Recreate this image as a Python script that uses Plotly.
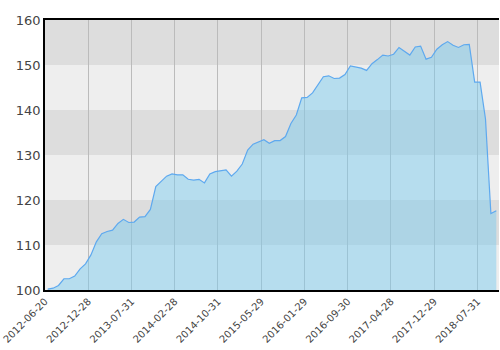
import pandas as pd
import plotly.graph_objects as go

# Tick dates (every 8th observation)
tick_dates = ["2012-06-20", "2012-12-28", "2013-07-31", "2014-02-28", "2014-10-31",
              "2015-05-29", "2016-01-29", "2016-09-30", "2017-04-28", "2017-12-29",
              "2018-07-31"]

values = [
    100.2, 100.4, 101.0, 102.5, 102.5, 103.1, 104.7, 105.8,
    107.8, 110.7, 112.5, 113.0, 113.3, 114.8, 115.7, 115.0,
    115.1, 116.2, 116.3, 117.9, 123.0, 124.2, 125.3, 125.8,
    125.6, 125.6, 124.6, 124.4, 124.6, 123.8, 125.8, 126.3,
    126.5, 126.7, 125.3, 126.4, 128.0, 131.1, 132.4, 132.9,
    133.4, 132.6, 133.2, 133.2, 134.1, 137.0, 138.9, 142.7,
    142.8, 143.8, 145.5, 147.4, 147.6, 147.0, 147.1, 147.9,
    149.8, 149.5, 149.3, 148.8, 150.3, 151.2, 152.2, 152.0,
    152.4, 153.9, 153.1, 152.2, 154.0, 154.2, 151.3, 151.7,
    153.5, 154.5, 155.2, 154.4, 153.9, 154.5, 154.6, 146.2,
    146.2, 138.0, 117.0, 117.6,
]

# Observation dates: tick dates with the observations in between
dates = []
for a, b in zip(tick_dates[:-1], tick_dates[1:]):
    rng = pd.date_range(a, b, periods=9)[:-1]
    dates += [d.strftime("%Y-%m-%d") for d in rng]
last = pd.Timestamp(tick_dates[-1])
step = (last - pd.Timestamp(tick_dates[-2])) / 8
dates += [(last + step * k).strftime("%Y-%m-%d") for k in range(len(values) - len(dates))]

# ordinal position of each observation on the axis
pos = list(range(len(values)))
# labels sit on the left boundary of their observation's slot
tick_pos = [dates.index(d) - 0.5 for d in tick_dates]

bands = [(150, 160), (130, 140), (110, 120)]

fig = go.Figure()
fig.add_trace(go.Scatter(
    x=pos, y=values, customdata=dates, mode="lines",
    line=dict(color="#5ea9ef", width=1.2),
    fill="tozeroy", fillcolor="rgba(125,203,238,0.5)",
    hovertemplate="%{customdata}: %{y}<extra></extra>",
))

fig.update_layout(
    width=500, height=350,
    margin=dict(l=45, r=1, t=20, b=60),
    paper_bgcolor="white", plot_bgcolor="#eeeeee",
    showlegend=False,
    font=dict(family="DejaVu Sans", color="#444444"),
    shapes=[dict(type="rect", xref="paper", yref="y", x0=0, x1=1, y0=lo, y1=hi,
                 fillcolor="#dddddd", line=dict(width=0), layer="below")
            for lo, hi in bands],
)
fig.update_xaxes(
    range=[-0.5, len(values) - 0.5],
    tickmode="array", tickvals=tick_pos, ticktext=tick_dates,
    ticks="",
    showgrid=True, gridcolor="#bbbbbb", gridwidth=1,
    tickangle=-45, tickfont=dict(size=10, color="#444444"),
    showline=True, linecolor="black", linewidth=1.5, mirror=True,
    zeroline=False,
)
fig.update_yaxes(
    range=[100, 160], dtick=10, tick0=100, ticks="",
    showgrid=False, zeroline=False,
    showline=True, linecolor="black", linewidth=1.5,
    tickfont=dict(size=13, color="#444444"),
)

fig.write_html("out.html")
